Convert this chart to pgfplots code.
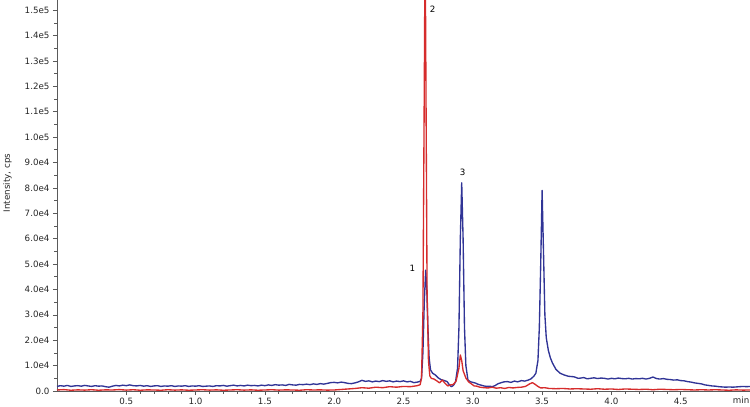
\documentclass[border=0pt]{standalone}
\usepackage{pgfplots}
\pgfplotsset{compat=1.18}
\usepackage{pgfplotstable}
\usepackage{fontspec}
\setmainfont{DejaVu Sans}
\definecolor{cblue}{RGB}{48,52,150}
\definecolor{cred}{RGB}{214,44,44}
\definecolor{axgray}{RGB}{90,90,90}

\pgfplotstableread{
t I
0.000 1800
0.025 2100
0.050 1900
0.075 2200
0.100 1800
0.125 2000
0.150 2100
0.175 1900
0.200 2200
0.225 2000
0.250 1800
0.275 2100
0.300 1900
0.325 2000
0.350 1700
0.375 1500
0.400 1900
0.425 2200
0.450 2000
0.475 2300
0.500 2100
0.525 2400
0.550 2100
0.575 2000
0.600 2200
0.625 1900
0.650 2100
0.675 1800
0.700 2000
0.725 2100
0.750 1800
0.775 2000
0.800 1900
0.825 2100
0.850 1800
0.875 2000
0.900 1900
0.925 2100
0.950 1800
0.975 2000
1.000 1900
1.025 2100
1.050 1800
1.075 1900
1.100 2000
1.125 1800
1.150 2100
1.175 2000
1.200 2200
1.225 1900
1.250 2100
1.275 2300
1.300 2000
1.325 2200
1.350 2000
1.375 2300
1.400 2100
1.425 2200
1.450 2000
1.475 2300
1.500 2100
1.525 2400
1.550 2200
1.575 2500
1.600 2300
1.625 2400
1.650 2200
1.675 2600
1.700 2400
1.725 2300
1.750 2600
1.775 2500
1.800 2700
1.825 2500
1.850 2800
1.875 2600
1.900 2900
1.925 2700
1.950 3000
1.975 3300
2.000 3400
2.025 3200
2.050 3500
2.075 3300
2.100 3000
2.125 2900
2.150 3200
2.175 3600
2.200 4200
2.225 3800
2.250 4000
2.275 3600
2.300 3900
2.325 3700
2.350 4100
2.375 3800
2.400 4000
2.425 3600
2.450 3900
2.475 3700
2.500 4000
2.525 3600
2.550 3800
2.575 3300
2.600 3500
2.620 3800
2.630 5000
2.640 15000
2.650 35000
2.660 47600
2.668 40000
2.676 25000
2.685 13000
2.695 8300
2.710 7000
2.730 6300
2.750 5200
2.770 4500
2.790 4200
2.815 3700
2.830 2500
2.845 1700
2.860 2200
2.875 3500
2.890 9000
2.900 25000
2.910 60000
2.920 82000
2.930 60000
2.940 25000
2.950 10000
2.965 4300
2.985 3600
3.000 3400
3.020 3100
3.040 2600
3.060 2300
3.080 2000
3.100 1800
3.120 1900
3.140 1700
3.160 2100
3.180 2800
3.200 3200
3.225 3600
3.250 3700
3.275 3400
3.300 3900
3.325 3600
3.350 4100
3.375 3900
3.400 4300
3.420 4800
3.440 5800
3.455 7000
3.470 12000
3.480 25000
3.490 50000
3.500 79000
3.510 55000
3.520 30000
3.530 21000
3.545 16000
3.560 13000
3.575 11000
3.600 8500
3.630 7000
3.660 6300
3.690 5800
3.730 5600
3.760 5000
3.780 5100
3.800 5300
3.825 4800
3.850 5000
3.875 5200
3.900 4900
3.925 5100
3.950 5000
3.975 4700
4.000 5000
4.025 4800
4.050 5100
4.075 4900
4.100 4800
4.125 5000
4.150 4700
4.175 4900
4.200 4800
4.225 5000
4.250 4700
4.275 5000
4.300 5500
4.325 4900
4.350 4700
4.375 4900
4.400 4600
4.425 4500
4.450 4300
4.475 4400
4.500 4100
4.525 4000
4.550 3700
4.575 3500
4.600 3200
4.625 3000
4.650 2800
4.675 2400
4.700 2200
4.725 2000
4.750 1900
4.775 1700
4.800 1600
4.825 1500
4.850 1600
4.875 1500
4.900 1600
4.925 1700
4.950 1800
4.975 1700
5.000 1800
}\blue

\pgfplotstableread{
t I
0.00 400
0.05 550
0.10 300
0.15 450
0.20 350
0.25 500
0.30 300
0.35 450
0.40 400
0.45 550
0.50 350
0.55 500
0.60 300
0.65 450
0.70 400
0.75 300
0.80 500
0.85 350
0.90 450
0.95 300
1.00 400
1.05 500
1.10 350
1.15 450
1.20 300
1.25 400
1.30 500
1.35 350
1.40 450
1.45 300
1.50 400
1.55 500
1.60 350
1.65 450
1.70 400
1.75 300
1.80 500
1.85 400
1.90 450
1.95 350
2.00 400
2.05 600
2.10 800
2.15 1000
2.20 1300
2.25 1100
2.30 1500
2.35 1300
2.40 1700
2.45 1500
2.50 1800
2.55 1700
2.60 2100
2.62 2500
2.63 5000
2.64 30000
2.650 120000
2.656 180000
2.662 120000
2.670 40000
2.680 12000
2.690 6000
2.70 5000
2.72 4700
2.74 4000
2.76 3200
2.78 4300
2.80 3000
2.82 2000
2.84 2400
2.86 2600
2.88 4000
2.90 9000
2.91 14200
2.92 12000
2.93 8000
2.95 5100
2.97 3600
2.99 2800
3.01 2000
3.03 1900
3.05 1500
3.08 1300
3.11 1200
3.14 1500
3.17 1100
3.20 1300
3.23 1000
3.26 1400
3.29 1200
3.32 1400
3.35 1500
3.38 1800
3.41 2800
3.43 3300
3.45 2600
3.47 1800
3.49 1200
3.52 1300
3.55 1000
3.60 900
3.65 1000
3.70 800
3.75 900
3.80 800
3.85 700
3.90 900
3.95 700
4.00 800
4.05 600
4.10 800
4.15 700
4.20 600
4.25 700
4.30 500
4.35 700
4.40 600
4.45 500
4.50 600
4.55 500
4.60 400
4.65 500
4.70 400
4.75 500
4.80 400
4.85 300
4.90 450
4.95 350
5.00 400
}\red

\begin{document}
\begin{tikzpicture}
\begin{axis}[
  name=ax,
  scale only axis,
  width=693pt, height=391pt,
  xmin=0, xmax=5.0,
  ymin=0, ymax=154000,
  axis x line=bottom, axis y line=left,
  axis line style={-, axgray, line width=0.8pt},
  tick style={axgray, line width=0.6pt},
  tick align=outside,
  major tick length=4pt, minor tick length=2.5pt,
  xtick={0.5,1.0,1.5,2.0,2.5,3.0,3.5,4.0,4.5},
  xticklabels={0.5,1.0,1.5,2.0,2.5,3.0,3.5,4.0,4.5},
  minor x tick num=4,
  ytick={0,10000,20000,30000,40000,50000,60000,70000,80000,90000,100000,110000,120000,130000,140000,150000},
  yticklabels={0.0,1.0e4,2.0e4,3.0e4,4.0e4,5.0e4,6.0e4,7.0e4,8.0e4,9.0e4,1.0e5,1.1e5,1.2e5,1.3e5,1.4e5,1.5e5},
  minor y tick num=1,
  scaled y ticks=false,
  tick label style={font=\fontsize{8.7}{10}\selectfont, text=black!85},
  clip=true,
]
\addplot[cblue, line width=1.35pt, line join=round] table[x=t, y=I] {\blue};
\addplot[cred, line width=1.35pt, line join=round] table[x=t, y=I] {\red};
\node[font=\fontsize{8.7}{10}\selectfont] at (axis cs:2.565,48400) {1};
\node[font=\fontsize{8.7}{10}\selectfont] at (axis cs:2.71,150400) {2};
\node[font=\fontsize{8.7}{10}\selectfont] at (axis cs:2.926,86200) {3};
\end{axis}
\node[rotate=90, font=\fontsize{8.7}{10}\selectfont, text=black!85] at ([xshift=-49.5pt,yshift=12.5pt]ax.west) {Intensity, cps};
\node[anchor=north east, inner sep=0pt, font=\fontsize{8.7}{10}\selectfont, text=black!85] at ([xshift=-0.5pt,yshift=-6pt]ax.south east) {min};
\pgfresetboundingbox
\path[use as bounding box] ([xshift=-57pt,yshift=-15pt]ax.south west) rectangle (ax.north east);
\end{tikzpicture}
\end{document}
